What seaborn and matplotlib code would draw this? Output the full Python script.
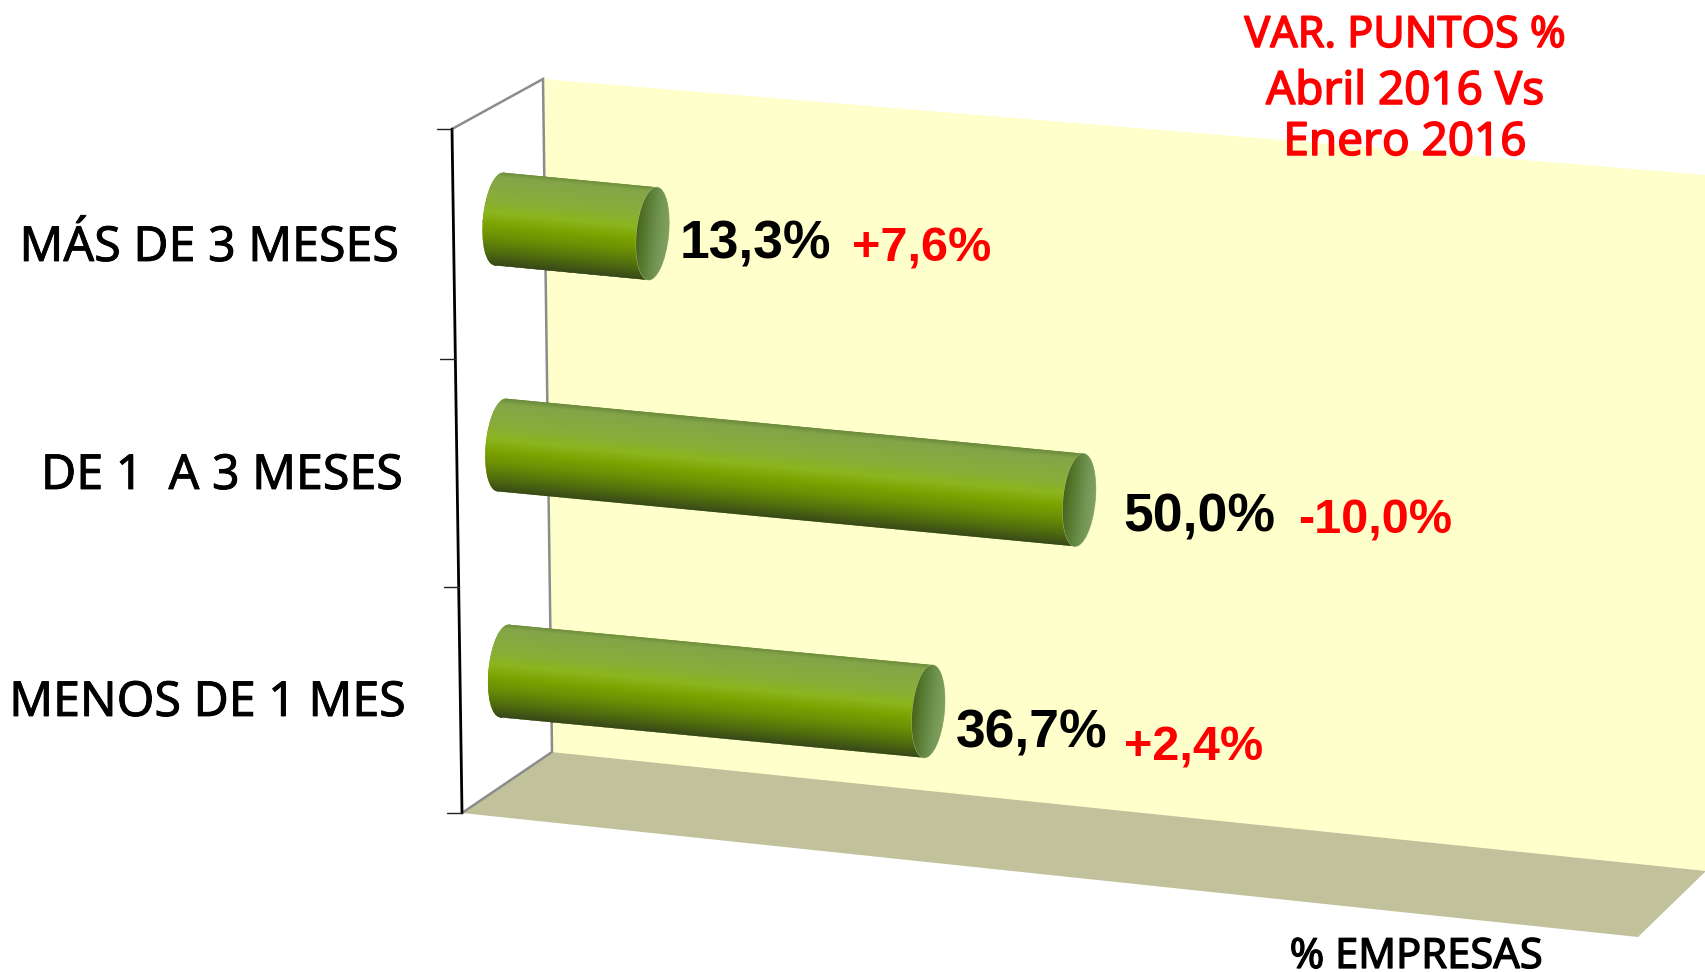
import numpy as np
import pandas as pd
import seaborn as sns
import matplotlib
matplotlib.use("Agg")
import matplotlib.pyplot as plt
import matplotlib.patheffects as pe
from matplotlib.colors import LinearSegmentedColormap
from matplotlib.patches import Ellipse, Polygon
from matplotlib.transforms import Affine2D

categories = ["MÁS DE 3 MESES", "DE 1  A 3 MESES", "MENOS DE 1 MES"]
values = [13.3, 50.0, 36.7]
changes = [7.6, -10.0, 2.4]
title_lines = ["VAR. PUNTOS %", "Abril 2016 Vs", "Enero 2016"]
axis_label = "% EMPRESAS"

sns.set_theme(style="white")
plt.rcParams["font.family"] = ["Noto Sans", "DejaVu Sans"]

W, H = 1706, 972
fig = plt.figure(figsize=(W / 100, H / 100), dpi=100, facecolor="white")
ax = fig.add_axes([0, 0, 1, 1])

df = pd.DataFrame({"cat": categories, "val": values})
BAR_W = 0.41
sns.barplot(data=df, x="val", y="cat", orient="h", width=BAR_W, color="#7ba300",
            linewidth=0, ax=ax, zorder=3)

# ---- oblique projection (value, category) -> canvas pixels
PX_PER_UNIT, RISE, ROW = 11.55, 1.10, 226.0
X0, Y0, ROW_DX, LEAN = 499.0, 219.0, 2.75, -22.0
CAP = 1.38


def bar_transform(i):
    return Affine2D.from_values(PX_PER_UNIT, RISE, LEAN, ROW,
                                X0 + ROW_DX * i - LEAN * i, Y0)


# ---- box: back wall, floor, edges
ax.add_patch(Polygon([(543, 79), (1706, 175), (1706, 871), (551, 753)],
                     fc="#ffffcc", ec="none", zorder=1))
ax.add_patch(Polygon([(551, 752), (1706, 871), (1638, 937), (462, 813)],
                     fc="#c1c29b", ec="none", zorder=1))
GREY = "#8c8c8c"
ax.plot([452, 543, 552, 462], [129, 79, 752, 813], color=GREY, lw=1.8, zorder=2,
        solid_joinstyle="miter")
ax.plot([452, 462], [129, 813], color="black", lw=2.0, zorder=2)
for k in range(4):
    f = k / 3
    x = 452 + 10 * f
    y = 129 + 684 * f + (2 if k in (1, 2) else 0)
    ax.plot([x - 15, x], [y, y], color="#222222", lw=1.0, zorder=2)

# ---- cylinders
body_colors = [(0.00, "#6a8a3e"), (0.06, "#84a548"), (0.30, "#8aad3a"), (0.45, "#8cb51e"),
               (0.58, "#7ca300"), (0.72, "#6a8d06"), (0.88, "#4e6a0e"), (1.00, "#38491a")]
cap_colors = [(0.00, "#48661a"), (0.25, "#567830"), (0.65, "#6f9450"), (1.00, "#82a262")]
body_cmap = LinearSegmentedColormap.from_list("body", body_colors)
cap_cmap = LinearSegmentedColormap.from_list("cap", cap_colors)
vgrad = body_cmap(np.linspace(0, 1, 256))[:, None, :3]
hgrad = cap_cmap(np.linspace(0, 1, 128))[None, :, :3]


def shade(arr, extent, clip_patch, tr, z):
    im = ax.imshow(arr, extent=extent, origin="upper", aspect="auto",
                   interpolation="bilinear", zorder=z)
    im.set_transform(tr)
    im.set_clip_path(clip_patch.get_path(), clip_patch.get_transform())


for i, (patch, v) in enumerate(zip(ax.patches[:len(values)], values)):
    tr = bar_transform(i) + ax.transData
    top, bot = i - BAR_W / 2, i + BAR_W / 2
    patch.set_transform(tr)
    left = Ellipse((0, i), 2 * CAP, BAR_W, fc="#7ba300", ec="none", transform=tr, zorder=3)
    ax.add_patch(left)
    shade(vgrad, (-CAP, v + CAP, bot, top), left, tr, 3.1)
    shade(vgrad, (-CAP, v + CAP, bot, top), patch, tr, 3.2)
    end = Ellipse((v, i), 2 * CAP, BAR_W, fc="#6f9450", ec="#a9c07a", lw=0.6,
                  transform=tr, zorder=3.3)
    ax.add_patch(end)
    shade(hgrad, (v - CAP, v + CAP, bot, top), end, tr, 3.4)


def thick(color, lw):
    return [pe.withStroke(linewidth=lw, foreground=color)]


# ---- text
label_pos = [(399, 261), (403, 489), (406, 716)]
for c, (x, y) in zip(categories, label_pos):
    ax.text(x, y, c, ha="right", va="baseline", fontsize=34.8, color="black", zorder=5,
            path_effects=thick("black", 0.6))

val_pos = [(680, 258), (1123, 531), (956, 747)]
chg_right = [(991, 261), (1452, 533), (1263, 760)]
val_font = dict(family=["Liberation Sans", "DejaVu Sans"], fontweight="bold", va="baseline", zorder=5)
for v, d, (vx, vy), (cx, cy) in zip(values, changes, val_pos, chg_right):
    ax.text(vx, vy, f"{v:.1f}%".replace(".", ","), ha="left", fontsize=38.5, color="black", **val_font)
    ax.text(cx, cy, f"{d:+.1f}%".replace(".", ","), ha="right", fontsize=35, color="#ff0000", **val_font)

for line, y, fs in zip(title_lines, [47, 104, 155], [31, 33, 33]):
    ax.text(1405, y, line, ha="center", va="baseline", fontsize=fs, color="#ff0000",
            zorder=5, path_effects=thick("#ff0000", 1.1))
ax.text(1416, 968, axis_label, ha="center", va="baseline", fontsize=30, color="black",
        zorder=5, path_effects=thick("black", 0.9))

ax.set_xlim(0, W)
ax.set_ylim(H, 0)
ax.axis("off")
fig.savefig("out.png", dpi=100, facecolor="white")
